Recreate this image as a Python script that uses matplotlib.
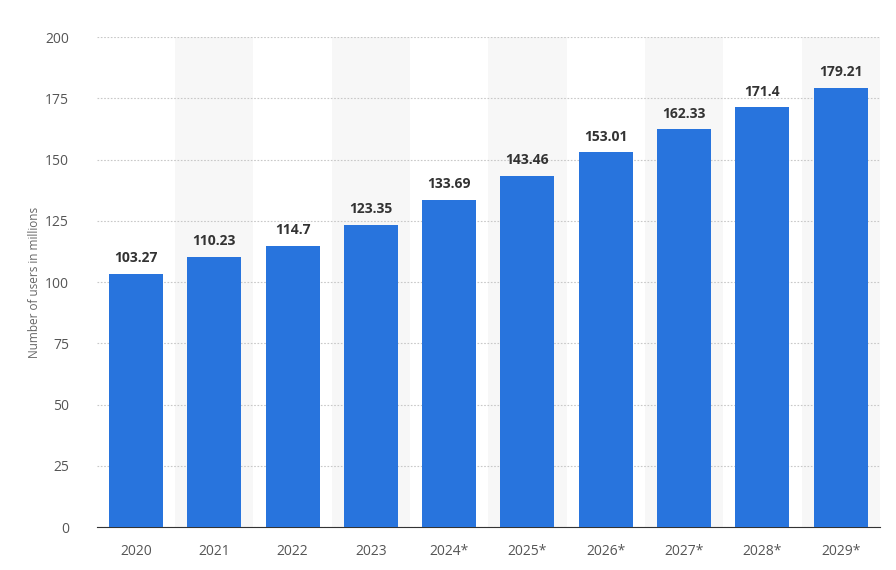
import matplotlib
matplotlib.use("Agg")
import matplotlib.pyplot as plt

years = ["2020", "2021", "2022", "2023", "2024*", "2025*", "2026*", "2027*", "2028*", "2029*"]
users = [103.27, 110.23, 114.7, 123.35, 133.69, 143.46, 153.01, 162.33, 171.4, 179.21]
labels = ["103.27", "110.23", "114.7", "123.35", "133.69", "143.46", "153.01", "162.33", "171.4", "179.21"]
yticks = [0, 25, 50, 75, 100, 125, 150, 175, 200]

plt.rcParams['font.family'] = ['Open Sans', 'DejaVu Sans']
fig = plt.figure(figsize=(8.96, 5.70), dpi=100)
ax = fig.add_axes([0.108, 0.0754, 0.874, 0.8596])
x = list(range(len(years)))
for i in x:
    if i % 2 == 1:
        ax.axvspan(i - 0.5, i + 0.5, color="#f7f7f7", zorder=0, lw=0)
ax.set_axisbelow(True)
ax.grid(axis="y", color="#c8c8c8", linestyle=(0, (1.5, 1.5)), linewidth=0.8)
ax.bar(x, users, width=0.69, color="#2874dd", zorder=3)
for i, v in enumerate(users):
    ax.text(i, v + 3.5, labels[i], ha="center", va="bottom", fontsize=10, fontweight="bold", color="#333333", zorder=4)
ax.set_xlim(-0.5, len(years) - 0.5)
ax.set_ylim(0, 200)
ax.set_yticks(yticks)
ax.set_xticks(x)
ax.set_xticklabels(years)
ax.tick_params(axis="both", length=0, labelsize=10, colors="#555555")
ax.tick_params(axis="y", pad=20)
ax.tick_params(axis="x", pad=12)
for s in ["top", "right", "left"]:
    ax.spines[s].set_visible(False)
ax.spines["bottom"].set_color("#333333")
ax.set_ylabel("Number of users in millions", fontsize=8.5, color="#666666", labelpad=3)
fig.savefig("out.png", dpi=100)
